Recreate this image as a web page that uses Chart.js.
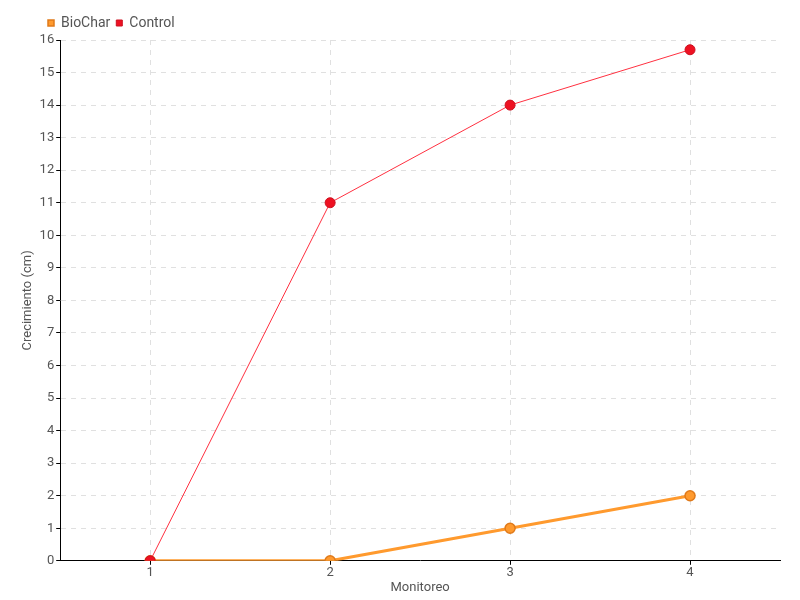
<!DOCTYPE html>
<html><head><meta charset="utf-8">
<script src="https://cdn.jsdelivr.net/npm/chart.js@4/dist/chart.umd.min.js"></script>
<style>html,body{margin:0;padding:0;background:#fff}#wrap{width:800px;height:600px}</style>
</head><body><div id="wrap"><canvas id="c" width="800" height="600"></canvas></div>
<script>
const categories = ["1", "2", "3", "4"];
const biochar = [0, 0, 1, 2];
const control = [0, 11, 14, 15.7];
const yTicks = [0,1,2,3,4,5,6,7,8,9,10,11,12,13,14,15,16];
const FONT = "Roboto, sans-serif";
Chart.defaults.font.family = FONT;
const legendShift = {
  id: 'legendShift',
  afterLayout(chart) { if (chart.legend) { chart.legend.left += 22; chart.legend.right += 22; } }
};
new Chart(document.getElementById('c'), {
  type: 'line',
  data: {
    labels: categories,
    datasets: [
      { label: 'BioChar', data: biochar, borderColor: '#ff9a2e', backgroundColor: '#ff9a2e',
        borderWidth: 3, pointRadius: 5, pointBackgroundColor: '#ff9a2e', pointBorderColor: '#e07a1a',
        pointBorderWidth: 1.5, order: 2, tension: 0 },
      { label: 'Control', data: control, borderColor: '#ff3040', backgroundColor: '#ee1122',
        borderWidth: 1, pointRadius: 5, pointBackgroundColor: '#ee1122', pointBorderColor: '#cc1020',
        pointBorderWidth: 1, order: 1, tension: 0 }
    ]
  },
  plugins: [legendShift],
  options: {
    responsive: false, animation: false,
    layout: { padding: { left: 20, right: 20, top: 10, bottom: 4 } },
    plugins: {
      legend: { position: 'top', align: 'start',
        labels: { usePointStyle: true, pointStyle: 'rect', boxWidth: 6, boxHeight: 6, padding: 6,
          color: '#555', font: { size: 14, family: FONT },
          sort: (a, b) => a.datasetIndex - b.datasetIndex } },
      tooltip: { enabled: false }
    },
    scales: {
      x: { offset: true,
        title: { display: true, text: 'Monitoreo', color: '#555', font: { size: 13 }, padding: { top: 0, bottom: 0 } },
        grid: { color: '#e0e0e0', offset: false, drawTicks: true, tickLength: 4, tickColor: '#000' },
        border: { color: '#000', width: 1, dash: [5, 5] },
        ticks: { color: '#555', font: { size: 13 }, padding: 0 } },
      y: { min: 0, max: 16,
        afterBuildTicks: (s) => { s.ticks = yTicks.map(v => ({ value: v })); },
        title: { display: true, text: 'Crecimiento (cm)', color: '#555', font: { size: 13 }, padding: { top: 0, bottom: 2 } },
        grid: { color: '#e0e0e0', drawTicks: true, tickLength: 4, tickColor: '#000' },
        border: { color: '#000', width: 1, dash: [5, 5] },
        ticks: { color: '#555', font: { size: 13 }, padding: 2 } }
    }
  }
});
</script></body></html>
